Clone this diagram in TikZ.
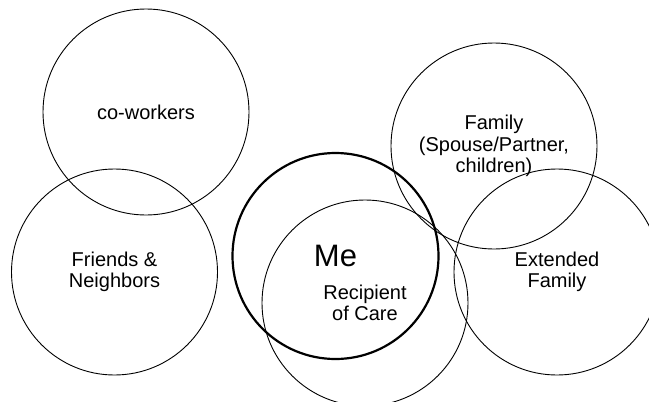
\documentclass[tikz,border=0pt]{standalone}
\usepackage{fontspec}
\setmainfont{Liberation Sans}

\begin{document}
\begin{tikzpicture}[x=1pt,y=-1pt,
    group/.style={draw, circle, line width=0.9pt, minimum size=206pt, inner sep=0pt,
        align=center, font=\fontsize{20}{21.5}\selectfont}]
        \useasboundingbox (0,0) rectangle (649,402);
        \clip (0,0) rectangle (649,402);
        % circles of support
        \node[group] (cowork) at (146,112) {co-workers};
        \node[group] (friends) at (114.5,272) {Friends \&\\Neighbors};
        \node[group] (family) at (494,146) {Family\\(Spouse/Partner,\\children)};
        \node[group] (extfam) at (557,272) {Extended\\Family};
        % me and the one cared for
        \node[group, line width=2.2pt, font=\fontsize{31}{33}\selectfont] (me) at (335.5,256) {Me};
        \node[group, text depth=0pt] (care) at (365,303) {Recipient\\of Care};
    \end{tikzpicture}
\end{document}
